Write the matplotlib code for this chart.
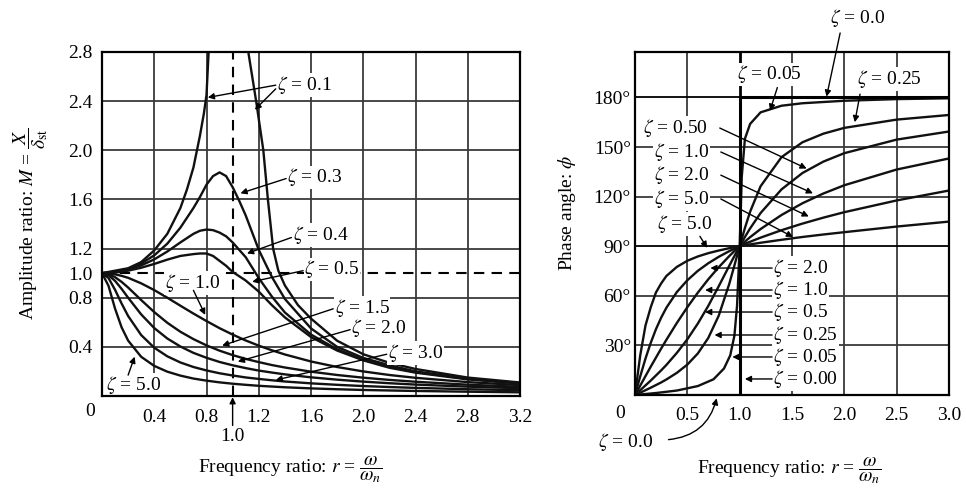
import matplotlib.pyplot as plt

plt.rcParams['font.family'] = ['Liberation Serif', 'DejaVu Serif']
plt.rcParams['mathtext.fontset'] = 'stix'

# ---- amplitude ratio M(r) ----
r_amp = [0, 0.05, 0.1, 0.15, 0.2, 0.3, 0.4, 0.5, 0.6, 0.7, 0.8, 0.9, 1.0,
         1.1, 1.2, 1.3, 1.4, 1.6, 1.8, 2.0, 2.2, 2.4, 2.8, 3.2]
M_z10 = [1.0, 0.998, 0.99, 0.978, 0.962, 0.917, 0.862, 0.80, 0.735, 0.671, 0.61, 0.552,
         0.50, 0.452, 0.41, 0.372, 0.338, 0.281, 0.236, 0.20, 0.171, 0.148, 0.113, 0.089]
M_z15 = [1.0, 0.991, 0.967, 0.929, 0.883, 0.781, 0.683, 0.596, 0.523, 0.463, 0.412, 0.369,
         0.333, 0.302, 0.276, 0.252, 0.232, 0.198, 0.171, 0.149, 0.131, 0.116, 0.092, 0.075]
M_z20 = [1.0, 0.983, 0.937, 0.872, 0.80, 0.664, 0.553, 0.468, 0.403, 0.351, 0.311, 0.277,
         0.25, 0.227, 0.207, 0.191, 0.176, 0.152, 0.133, 0.117, 0.104, 0.093, 0.076, 0.063]
M_z30 = [1.0, 0.96, 0.864, 0.753, 0.651, 0.496, 0.393, 0.323, 0.273, 0.236, 0.208, 0.185,
         0.167, 0.151, 0.139, 0.128, 0.118, 0.103, 0.091, 0.081, 0.073, 0.066, 0.055, 0.047]
M_z50 = [1.0, 0.896, 0.711, 0.559, 0.451, 0.319, 0.245, 0.198, 0.166, 0.142, 0.125, 0.111,
         0.10, 0.091, 0.083, 0.077, 0.071, 0.062, 0.055, 0.049, 0.045, 0.041, 0.035, 0.030]
# curves with a resonant peak
r_peak = [0, 0.1, 0.2, 0.3, 0.4, 0.5, 0.6, 0.7, 0.75, 0.8, 0.85, 0.9, 0.95, 1.0, 1.05,
          1.1, 1.2, 1.3, 1.4, 1.6, 1.8, 2.0, 2.2, 2.4, 2.8, 3.2]
M_z03 = [1.0, 1.008, 1.034, 1.078, 1.145, 1.24, 1.37, 1.53, 1.62, 1.72, 1.79, 1.82, 1.79,
         1.70, 1.59, 1.47, 1.19, 0.97, 0.79, 0.55, 0.40, 0.31, 0.25, 0.20, 0.14, 0.105]
M_z04 = [1.0, 1.007, 1.028, 1.063, 1.112, 1.176, 1.25, 1.32, 1.345, 1.355, 1.35, 1.33, 1.30,
         1.25, 1.19, 1.13, 0.96, 0.81, 0.68, 0.50, 0.38, 0.295, 0.24, 0.195, 0.14, 0.104]
M_z05 = [1.0, 1.005, 1.02, 1.044, 1.075, 1.11, 1.14, 1.155, 1.16, 1.16, 1.14, 1.10, 1.06,
         1.01, 0.975, 0.94, 0.85, 0.74, 0.64, 0.48, 0.37, 0.29, 0.23, 0.19, 0.135, 0.102]
# zeta = 0.1 goes off the top of the chart
r_amp_z01 = [0, 0.2, 0.3, 0.4, 0.5, 0.6, 0.65, 0.7, 0.75, 0.78, 0.8, 0.83, 1.09, 1.12, 1.18,
             1.235, 1.27, 1.31, 1.35, 1.4, 1.5, 1.6, 1.8, 2.0, 2.2, 2.4, 2.8, 3.2]
M_z01 = [1.0, 1.04, 1.09, 1.185, 1.32, 1.53, 1.68, 1.86, 2.12, 2.3, 2.45, 3.1, 3.1, 2.8, 2.4,
         2.0, 1.6, 1.2, 1.02, 0.9, 0.74, 0.63, 0.45, 0.34, 0.27, 0.22, 0.15, 0.11]

# ---- phase angle phi(r) in degrees ----
r_ph = [0, 0.05, 0.1, 0.15, 0.2, 0.25, 0.3, 0.4, 0.5, 0.6, 0.7, 0.8, 0.9, 0.95, 1.0,
        1.05, 1.1, 1.2, 1.4, 1.6, 1.8, 2.0, 2.5, 3.0]
ph_z025 = [0, 1.4, 2.9, 4.4, 6.0, 7.6, 9.4, 13.4, 18.4, 25.1, 34.5, 48.0, 67.1, 78.4, 90,
           101, 110.9, 126.3, 143.9, 152.9, 158.1, 161.6, 166.6, 169.4]
ph_z05 = [0, 2.9, 5.8, 8.7, 11.8, 14.9, 18.2, 25.5, 33.7, 43.2, 53.9, 65.8, 78.1, 84.1, 90,
          95.6, 100.8, 110.1, 124.4, 134.3, 141.2, 146.3, 154.5, 159.4]
ph_z10 = [0, 5.7, 11.4, 17.1, 22.6, 28.1, 33.4, 43.6, 53.1, 61.9, 70.0, 77.3, 84.0, 87.1, 90,
          92.8, 95.5, 100.4, 108.9, 116.0, 121.9, 126.9, 136.4, 143.1]
ph_z20 = [0, 11.3, 22.0, 31.5, 39.8, 46.8, 52.8, 62.3, 69.4, 75.1, 79.7, 83.6, 87.0, 88.5, 90,
          91.5, 92.7, 95.2, 99.7, 103.7, 107.3, 110.6, 117.7, 123.7]
ph_z50 = [0, 24, 42, 53, 62, 67.5, 72, 77.5, 81.2, 83.8, 85.8, 87.4, 88.8, 89.4, 90,
          90.6, 91.1, 92.1, 93.9, 95.6, 97.1, 98.5, 101.9, 104.9]
r_ph_z005 = [0, 0.2, 0.4, 0.6, 0.75, 0.85, 0.91, 0.95, 0.975, 1.0, 1.02, 1.05, 1.1,
             1.2, 1.4, 1.6, 2.0, 2.5, 3.0]
ph_z005 = [0, 1.2, 2.7, 5.4, 9.5, 16, 24, 36, 54, 90, 132, 155, 164, 171, 175, 176.5,
           178, 179, 179.5]
r_ph_z0 = [0, 1, 1, 3]
ph_z0 = [0, 0, 180, 180]

# ticks
amp_xticks = [0.4, 0.8, 1.2, 1.6, 2.0, 2.4, 2.8, 3.2]
amp_yticks = [0.4, 0.8, 1.0, 1.2, 1.6, 2.0, 2.4, 2.8]
amp_ygrid = [0.4, 0.8, 1.2, 1.6, 2.0, 2.4]
ph_xticks = [0.5, 1.0, 1.5, 2.0, 2.5, 3.0]
ph_yticks = [30, 60, 90, 120, 150, 180]

Z = r'$\zeta$ = '
amp_labels = [  # text, x, y, arrows (start, end)
    (Z + '0.1', 1.34, 2.53, [((1.33, 2.53), (0.81, 2.43)), ((1.33, 2.50), (1.17, 2.33))]),
    (Z + '0.3', 1.42, 1.78, [((1.41, 1.77), (1.06, 1.65))]),
    (Z + '0.4', 1.46, 1.31, [((1.45, 1.29), (1.11, 1.16))]),
    (Z + '0.5', 1.55, 1.03, [((1.54, 1.02), (1.15, 0.93))]),
    (Z + '1.0', 0.48, 0.92, [((0.70, 0.86), (0.79, 0.66))]),
    (Z + '1.5', 1.78, 0.72, [((1.77, 0.71), (0.92, 0.41))]),
    (Z + '2.0', 1.91, 0.55, [((1.90, 0.54), (1.04, 0.28))]),
    (Z + '3.0', 2.19, 0.35, [((2.18, 0.34), (1.33, 0.13))]),
    (Z + '5.0', 0.03, 0.09, [((0.20, 0.17), (0.25, 0.32))]),
]
ph_labels = [
    (Z + '0.0', 1.86, 228, [((1.96, 219), (1.83, 180.5))]),
    (Z + '0.05', 0.97, 194, [((1.36, 186), (1.29, 172))]),
    (Z + '0.25', 2.12, 191, [((2.15, 182), (2.10, 165))]),
    (Z + '0.50', 0.08, 161.5, [((0.81, 161.5), (1.64, 137))]),
    (Z + '1.0', 0.18, 147, [((0.82, 147), (1.70, 122))]),
    (Z + '2.0', 0.18, 133, [((0.82, 133), (1.66, 108))]),
    (Z + '5.0', 0.18, 118.6, [((0.82, 118.6), (1.51, 95.6))]),
    (Z + '5.0', 0.21, 103.4, [((0.62, 96), (0.69, 89))]),
    (Z + '2.0', 1.32, 76.8, [((1.31, 76.8), (0.72, 76.8))]),
    (Z + '1.0', 1.32, 63.5, [((1.31, 63.5), (0.67, 63.5))]),
    (Z + '0.5', 1.32, 50.2, [((1.31, 50.2), (0.67, 50.2))]),
    (Z + '0.25', 1.32, 36.3, [((1.31, 36.3), (0.76, 36.3))]),
    (Z + '0.05', 1.32, 23.0, [((1.31, 23.0), (0.93, 23.0))]),
    (Z + '0.00', 1.32, 9.7, [((1.31, 9.7), (1.05, 9.7))]),
]

FS = 14
LW = 1.7
ARROW = dict(arrowstyle='-|>', color='black', lw=1.0, mutation_scale=9,
             shrinkA=0, shrinkB=0)
BOX = dict(facecolor='white', edgecolor='none', pad=0.5)
GRID = dict(color='#3a3a3a', lw=1.3, zorder=1)


def style_axes(ax):
    for s in ax.spines.values():
        s.set_linewidth(1.6)
        s.set_zorder(5)
    ax.tick_params(length=0, labelsize=FS)


def put_labels(ax, labels):
    for text, x, y, arrows in labels:
        ax.text(x, y, text, fontsize=FS, ha='left', va='center', bbox=BOX,
                zorder=4, clip_on=False)
        for start, end in arrows:
            ax.annotate('', xy=end, xytext=start, arrowprops=ARROW,
                        annotation_clip=False, zorder=4)


fig = plt.figure(figsize=(9.66, 4.88), dpi=100)

# ---------------- left: amplitude ratio ----------------
ax1 = fig.add_axes([102 / 966, 1 - 396 / 488, 418 / 966, 344 / 488])
style_axes(ax1)
for x in amp_xticks[:-1]:
    ax1.axvline(x, **GRID)
for y in amp_ygrid:
    ax1.axhline(y, **GRID)
ax1.axvline(1.0, color='black', lw=1.5, ls=(0, (5, 3.5)), zorder=1)
ax1.axhline(1.0, color='black', lw=1.5, ls=(0, (5, 3.5)), zorder=1)

for M in [M_z10, M_z15, M_z20, M_z30, M_z50]:
    ax1.plot(r_amp, M, color='#111111', lw=LW, zorder=3)
for M in [M_z03, M_z04, M_z05]:
    ax1.plot(r_peak, M, color='#111111', lw=LW, zorder=3)
ax1.plot(r_amp_z01, M_z01, color='#111111', lw=LW, zorder=3)

ax1.set_xlim(0, 3.2)
ax1.set_ylim(0, 2.8)
ax1.set_xticks(amp_xticks)
ax1.set_xticklabels([f'{v:.1f}' for v in amp_xticks])
ax1.set_yticks(amp_yticks)
ax1.set_yticklabels([f'{v:.1f}' for v in amp_yticks])
ax1.tick_params(axis='x', pad=9)
ax1.tick_params(axis='y', pad=7)
put_labels(ax1, amp_labels)

ax1.annotate('', xy=(1.0, -0.01), xytext=(1.0, -0.24), annotation_clip=False,
             arrowprops=ARROW)
ax1.text(1.0, -0.33, '1.0', fontsize=FS, ha='center', va='center', clip_on=False)
ax1.set_ylabel(r'Amplitude ratio: $M$ = $\dfrac{X}{\delta_{\rm st}}$', fontsize=FS)
ax1.yaxis.set_label_coords(-0.125, 0.5)
ax1.set_xlabel(r'Frequency ratio: $r$ = $\dfrac{\omega}{\omega_n}$', fontsize=FS)
ax1.xaxis.set_label_coords(0.45, -0.17)
fig.text(90 / 966, 1 - 412 / 488, '0', fontsize=FS, ha='center', va='center')

# ---------------- right: phase angle ----------------
ax2 = fig.add_axes([635 / 966, 1 - 395 / 488, 314 / 966, 343 / 488])
style_axes(ax2)
for x in ph_xticks[:-1]:
    ax2.axvline(x, color='black' if x == 1.0 else '#3a3a3a',
                lw=2.0 if x == 1.0 else 1.3, zorder=1)
for y in ph_yticks:
    ax2.axhline(y, color='black' if y in (90, 180) else '#3a3a3a', lw=1.3, zorder=1)

for ph in [ph_z025, ph_z05, ph_z10, ph_z20, ph_z50]:
    ax2.plot(r_ph, ph, color='#111111', lw=LW, zorder=3)
ax2.plot(r_ph_z005, ph_z005, color='#111111', lw=LW, zorder=3)
ax2.plot(r_ph_z0, ph_z0, color='black', lw=2.2, zorder=3)

ax2.set_xlim(0, 3.0)
ax2.set_ylim(0, 207.5)
ax2.set_xticks(ph_xticks)
ax2.set_xticklabels([f'{v:.1f}' for v in ph_xticks])
ax2.set_yticks(ph_yticks)
ax2.set_yticklabels([f'{v}°' for v in ph_yticks])
ax2.tick_params(axis='x', pad=9)
ax2.tick_params(axis='y', pad=3)
put_labels(ax2, ph_labels)

ax2.text(-0.35, -28.4, Z + '0.0', fontsize=FS, ha='left', va='center', clip_on=False)
ax2.annotate('', xy=(0.78, -2), xytext=(0.32, -27), annotation_clip=False,
             arrowprops=dict(ARROW, connectionstyle='arc3,rad=0.35'))
ax2.set_ylabel(r'Phase angle: $\phi$', fontsize=FS)
ax2.yaxis.set_label_coords(-0.18, 0.53)
ax2.set_xlabel(r'Frequency ratio: $r$ = $\dfrac{\omega}{\omega_n}$', fontsize=FS)
ax2.xaxis.set_label_coords(0.49, -0.175)
fig.text(620 / 966, 1 - 413 / 488, '0', fontsize=FS, ha='center', va='center')

fig.savefig('out.png', dpi=100)
